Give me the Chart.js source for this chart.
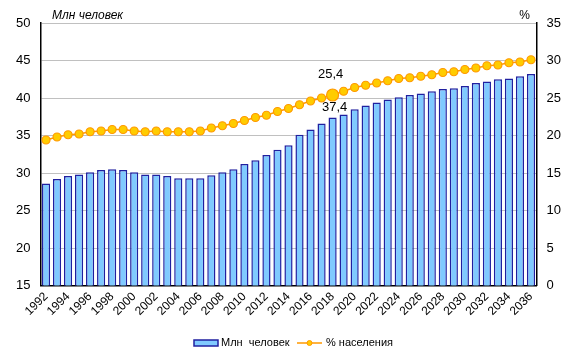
<!DOCTYPE html>
<html>
<head>
<meta charset="utf-8">
<script src="https://cdn.jsdelivr.net/npm/chart.js@4.4.1/dist/chart.umd.min.js"></script>
<style>
  html, body { margin: 0; padding: 0; background: #fff; }
  #wrap { width: 574px; height: 360px; }
</style>
</head>
<body>
<div id="wrap"><canvas id="popChart" width="574" height="360"></canvas></div>
<script>
const years = [];
for (let y = 1992; y <= 2036; y++) years.push(String(y));

// Млн человек
const millions = [
    28.6, 29.2, 29.6, 29.8, 30.1, 30.4, 30.5, 30.4, 30.1, 29.8,
    29.8, 29.6, 29.3, 29.3, 29.3, 29.7, 30.1, 30.5, 31.2, 31.7,
    32.4, 33.1, 33.7, 35.1, 35.8, 36.6, 37.4, 37.8, 38.5, 39.0,
    39.4, 39.8, 40.1, 40.4, 40.6, 40.9, 41.2, 41.3, 41.6, 42.0,
    42.2, 42.5, 42.6, 42.9, 43.2
];

// % населения
const percent = [
    19.4, 19.8, 20.1, 20.2, 20.5, 20.6, 20.8, 20.8, 20.6, 20.5,
    20.6, 20.5, 20.5, 20.5, 20.6, 21.0, 21.3, 21.6, 22.0, 22.4,
    22.7, 23.2, 23.6, 24.1, 24.6, 25.0, 25.4, 25.9, 26.4, 26.7,
    27.0, 27.3, 27.6, 27.7, 27.9, 28.1, 28.4, 28.5, 28.8, 29.0,
    29.3, 29.4, 29.7, 29.8, 30.1
];

const leftTicks = [15, 20, 25, 30, 35, 40, 45, 50];
const rightTicks = [0, 5, 10, 15, 20, 25, 30, 35];

const highlightYear = '2018';
const hi = years.indexOf(highlightYear);

const fontFamily = '"Liberation Sans", Arial, sans-serif';

const barFill = 'rgb(128, 202, 255)';
const barBorder = 'rgb(32, 32, 160)';
const lineColor = 'rgb(255, 153, 0)';
const pointFill = 'rgb(255, 204, 0)';

const fmt = v => v.toFixed(1).replace('.', ',');

// extra texts: axis captions, value labels, legend
const extrasPlugin = {
    id: 'extras',
    afterDraw(chart) {
        const ctx = chart.ctx;
        ctx.save();

        ctx.fillStyle = '#000';
        ctx.font = 'italic 12px ' + fontFamily;
        ctx.textBaseline = 'alphabetic';
        ctx.textAlign = 'left';
        ctx.fillText('Млн человек', 52, 19);
        ctx.font = '12px ' + fontFamily;
        ctx.textAlign = 'right';
        ctx.fillText('%', 530, 19);

        // value labels for the highlighted year
        const bar = chart.getDatasetMeta(0).data[hi];
        const pt = chart.getDatasetMeta(1).data[hi];
        ctx.font = '13px ' + fontFamily;
        ctx.textAlign = 'center';
        ctx.textBaseline = 'middle';
        ctx.fillText(fmt(percent[hi]), pt.x - 2, pt.y - 21);
        ctx.fillText(fmt(millions[hi]), bar.x + 2, bar.y - 10);

        // legend
        const ly = 343;
        ctx.fillStyle = barFill;
        ctx.strokeStyle = barBorder;
        ctx.lineWidth = 1.5;
        ctx.fillRect(194, ly - 3, 24, 6);
        ctx.strokeRect(194, ly - 3, 24, 6);
        ctx.fillStyle = '#000';
        ctx.font = '11px ' + fontFamily;
        ctx.textAlign = 'left';
        ctx.fillText('Млн  человек', 221, ly);

        ctx.strokeStyle = lineColor;
        ctx.lineWidth = 1.5;
        ctx.beginPath();
        ctx.moveTo(297, ly);
        ctx.lineTo(322, ly);
        ctx.stroke();
        ctx.beginPath();
        ctx.arc(309.5, ly, 2.5, 0, Math.PI * 2);
        ctx.fillStyle = pointFill;
        ctx.fill();
        ctx.lineWidth = 1;
        ctx.stroke();
        ctx.fillStyle = '#000';
        ctx.fillText('% населения', 326, ly);

        ctx.restore();
    }
};

const ctx = document.getElementById('popChart').getContext('2d');

new Chart(ctx, {
    type: 'bar',
    data: {
        labels: years,
        datasets: [
            {
                label: 'Млн  человек',
                type: 'bar',
                data: millions,
                yAxisID: 'y',
                backgroundColor: barFill,
                borderColor: barBorder,
                borderWidth: 1.5,
                barPercentage: 0.74,
                categoryPercentage: 1.0,
                order: 2
            },
            {
                label: '% населения',
                type: 'line',
                data: percent,
                yAxisID: 'y2',
                borderColor: lineColor,
                borderWidth: 1.5,
                backgroundColor: pointFill,
                pointBackgroundColor: pointFill,
                pointBorderColor: lineColor,
                pointBorderWidth: 1.2,
                pointRadius: percent.map((v, i) => i === hi ? 6 : 4),
                tension: 0,
                fill: false,
                order: 1
            }
        ]
    },
    options: {
        responsive: false,
        animation: false,
        layout: { padding: { top: 23, left: 0, right: 0, bottom: 0 } },
        plugins: {
            legend: { display: false },
            tooltip: { enabled: false }
        },
        scales: {
            x: {
                grid: { display: false, drawTicks: false },
                border: { color: '#000', width: 1.5 },
                ticks: {
                    autoSkip: false,
                    maxRotation: 45,
                    minRotation: 45,
                    padding: 4,
                    color: '#000',
                    font: { family: fontFamily, size: 12 },
                    callback: (v, i) => i % 2 === 0 ? years[i] : ''
                },
                afterFit: s => { s.height = 74.5; }
            },
            y: {
                position: 'left',
                min: leftTicks[0],
                max: leftTicks[leftTicks.length - 1],
                afterBuildTicks: s => { s.ticks = leftTicks.map(v => ({ value: v })); },
                grid: { color: '#c0c0c0', lineWidth: 1, drawTicks: false },
                border: { color: '#000', width: 1.5 },
                ticks: {
                    padding: 10,
                    color: '#000',
                    font: { family: fontFamily, size: 13 }
                },
                afterFit: s => { s.width = 40.5; }
            },
            y2: {
                position: 'right',
                min: rightTicks[0],
                max: rightTicks[rightTicks.length - 1],
                afterBuildTicks: s => { s.ticks = rightTicks.map(v => ({ value: v })); },
                grid: { display: false, drawTicks: false },
                border: { color: '#000', width: 1.5 },
                ticks: {
                    padding: 10,
                    color: '#000',
                    font: { family: fontFamily, size: 13 }
                },
                afterFit: s => { s.width = 37.5; }
            }
        }
    },
    plugins: [extrasPlugin]
});
</script>
</body>
</html>
